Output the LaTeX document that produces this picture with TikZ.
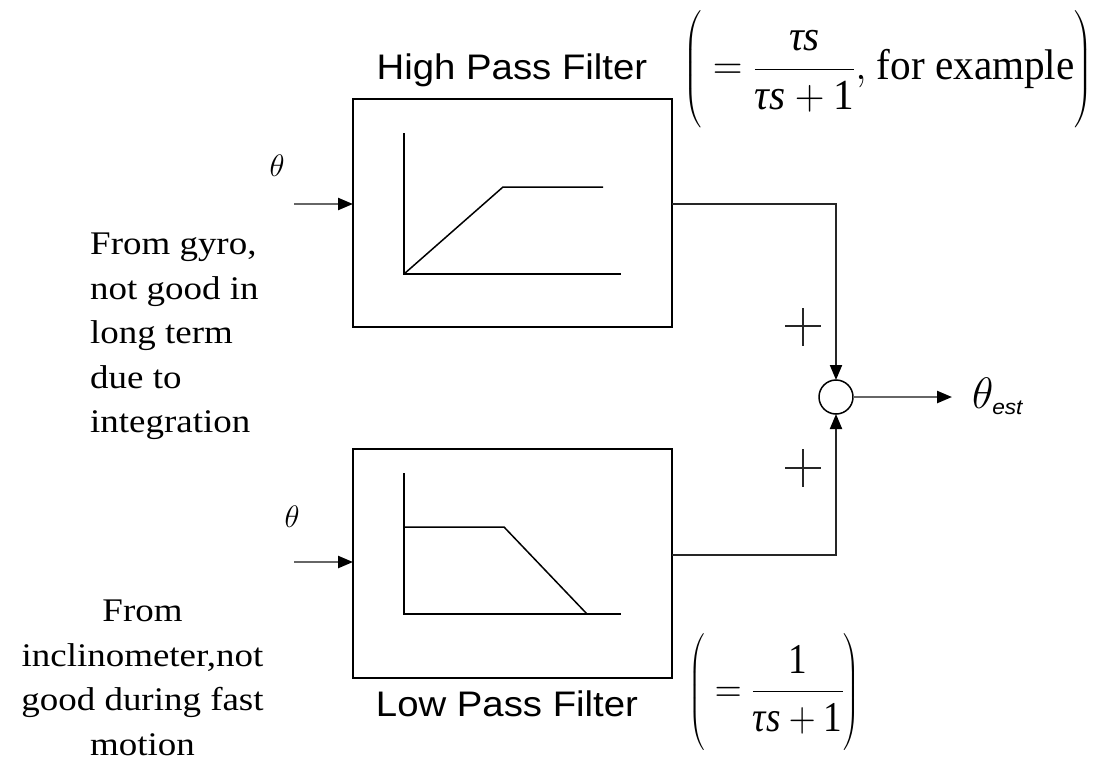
\RequirePackage{fix-cm}
\documentclass[tikz,border=0pt]{standalone}
\usepackage{amsmath}
\usepackage{graphicx}
\usepackage{fontspec}
\setmainfont{Liberation Serif}[FakeStretch=1.12]
\newfontfamily\timesf{Liberation Serif}
\newfontfamily\arialf{Liberation Sans}[FakeStretch=1.08]
\usetikzlibrary{arrows.meta,calc}
\tikzset{
  block/.style={draw=black, line width=1.5pt, minimum width=319pt, minimum height=228pt, inner sep=0pt, outer sep=0pt},
  sumnode/.style={circle, draw=black, line width=1.5pt, minimum size=34pt, inner sep=0pt, outer sep=0pt},
  plotline/.style={line width=1.5pt, black},
  conn/.style={draw=black!85, line width=2pt, -{Triangle[length=15pt,width=12pt,black]}},
  inarrow/.style={draw=black!60, line width=2.4pt, -{Triangle[length=15pt,width=12pt,black]}},
  plusline/.style={line width=1.3pt, black!85},
  lbl/.style={font=\arialf\fontsize{35.5}{40}\selectfont, inner sep=0pt},
  note/.style={font=\fontsize{33}{44.5}\selectfont, inner sep=0pt},
  sym/.style={font=\fontsize{31}{34}\selectfont, inner sep=0pt},
  formula/.style={inner sep=0pt},
}
\begin{document}
\begin{tikzpicture}[x=1pt,y=-1pt]
\useasboundingbox (0,0) rectangle (1097,760);
% blocks
\node[block] (hpf) at (512.5,213) {};
\node[block, minimum height=229pt] (lpf) at (512.5,563.5) {};
\node[sumnode] (sum) at (836,397) {};
% frequency responses
\draw[plotline] (404,133) -- (404,274) -- (621,274);
\draw[plotline] (404,274) -- (503,187) -- (603,187);
\draw[plotline] (404,473) -- (404,614) -- (621,614);
\draw[plotline] (404,527) -- (504,527) -- (587,614);
% connectors
\coordinate (in1) at (294,204);
\coordinate (in2) at (294,562);
\coordinate (o1) at (672,204);
\coordinate (o2) at (672,555);
\coordinate (out) at (952,397);
\draw[inarrow] (in1) -- (in1 -| hpf.west);
\draw[inarrow] (in2) -- (in2 -| lpf.west);
\draw[conn] (o1) -| (sum.north);
\draw[conn] (o2) -| (sum.south);
\draw[inarrow] (sum.east) -- (out);
% plus signs
\draw[plusline] (785,326) -- (821,326) (803,308) -- (803,346);
\draw[plusline] (785,468) -- (821,468) (803,449) -- (803,487);
% labels
\node[lbl, anchor=base] (hpl) at (512,79) {High Pass Filter};
\node[lbl, anchor=base] (lpl) at (507,716) {Low Pass Filter};
\node[sym] (th1) at (277,166) {$\theta$};
\node[sym] (th2) at (292,517) {$\theta$};
\node[anchor=base west, inner sep=0pt, font=\fontsize{44}{48}\selectfont] (est) at (972,408) {$\theta_{\hbox{\arialf\itshape\fontsize{21}{24}\selectfont est}}$};
\node[note, anchor=north west, align=left] (gyro) at (90,233) {From gyro,\\not good in\\long term\\due to\\integration};
\node[note, anchor=north, align=center] (incl) at (142.5,600) {From\\inclinometer,not\\good during fast\\motion};
% formulas
\node[formula] (f1) at (888,69) {\resizebox*{410pt}{118pt}{\timesf\fontsize{49}{55}\selectfont $\left(\rule[-1.12em]{0pt}{2.75em}=\dfrac{\hbox{\itshape τs}}{\hbox{\itshape τs}+\hbox{1}}{,}\hbox{ for example}\right)$}};
\node[formula] (f2) at (774,691.5) {\resizebox*{172pt}{117pt}{\timesf\fontsize{49}{55}\selectfont $\left(\rule[-1.12em]{0pt}{2.75em}=\dfrac{\hbox{1}}{\hbox{\itshape τs}+\hbox{1}}\right)$}};
\end{tikzpicture}
\end{document}
